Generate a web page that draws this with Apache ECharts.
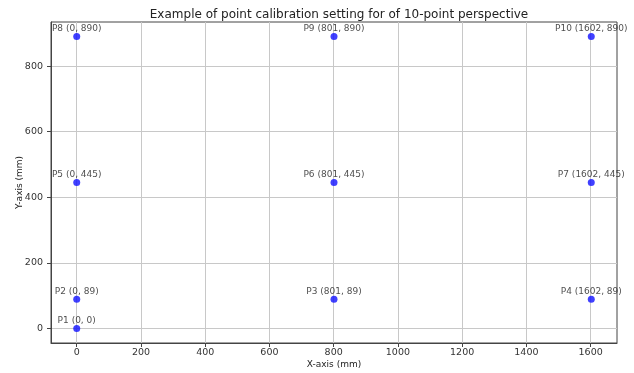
<!DOCTYPE html>
<html><head><meta charset="utf-8">
<script src="https://cdn.jsdelivr.net/npm/echarts@6/dist/echarts.min.js"></script>
<style>html,body{margin:0;padding:0;background:#fff}#c{width:634px;height:373px}</style>
</head><body><div id="c"></div>
<script>
var pointNames = ['P1','P2','P3','P4','P5','P6','P7','P8','P9','P10'];
var xValues = [0, 0, 801, 1602, 0, 801, 1602, 0, 801, 1602];
var yValues = [0, 89, 89, 89, 445, 445, 445, 890, 890, 890];
var xTicks = [0, 200, 400, 600, 800, 1000, 1200, 1400, 1600];
var yTicks = [0, 200, 400, 600, 800];

var data = pointNames.map(function(n, i){ return {name: n + ' (' + xValues[i] + ', ' + yValues[i] + ')', value: [xValues[i], yValues[i]]}; });
var xMin = -0.05 * 1602, xMax = 1602 * 1.05;
var yMin = -0.05 * 890, yMax = 890 * 1.05;
var font = 'DejaVu Sans';
var chart = echarts.init(document.getElementById('c'), null, {renderer: 'canvas'});
chart.setOption({
  animation: false,
  backgroundColor: '#fff',
  title: {text: 'Example of point calibration setting for of 10-point perspective', left: 334, textAlign: 'center', top: 4,
    textStyle: {fontFamily: font, fontSize: 12, fontWeight: 'normal', color: '#222'}},
  grid: {left: 51, right: 17, top: 22, bottom: 30, show: true, borderColor: '#444', borderWidth: 1, backgroundColor: 'transparent',
    containLabel: false, outerBoundsMode: 'none'},
  xAxis: {type: 'value', min: xMin, max: xMax, name: 'X-axis (mm)', nameLocation: 'middle', nameGap: 17, nameMoveOverlap: false,
    nameTextStyle: {fontFamily: font, fontSize: 9, color: '#222'},
    axisLine: {show: true, onZero: false, lineStyle: {color: '#444'}},
    axisTick: {show: true, length: 4, lineStyle: {color: '#444'}, customValues: xTicks},
    axisLabel: {fontFamily: font, fontSize: 9.5, color: '#333', margin: 5, customValues: xTicks, formatter: function(v){ return String(v); }},
    splitLine: {show: true, lineStyle: {color: '#c8c8c8'}}},
  yAxis: {type: 'value', min: yMin, max: yMax, name: 'Y-axis (mm)', nameLocation: 'middle', nameGap: 27, nameRotate: 90, nameMoveOverlap: false,
    nameTextStyle: {fontFamily: font, fontSize: 9, color: '#222'},
    axisLine: {show: true, onZero: false, lineStyle: {color: '#444'}},
    axisTick: {show: true, length: 4, lineStyle: {color: '#444'}, customValues: yTicks},
    axisLabel: {fontFamily: font, fontSize: 9.5, color: '#333', margin: 8, customValues: yTicks, formatter: function(v){ return String(v); }},
    splitLine: {show: true, lineStyle: {color: '#c8c8c8'}}},
  series: [{type: 'scatter', data: data, symbolSize: 7, itemStyle: {color: '#1010ff'},
    label: {show: true, position: 'top', distance: 0, formatter: '{b}', fontFamily: font, fontSize: 9, color: '#222'}}]
});
</script></body></html>
